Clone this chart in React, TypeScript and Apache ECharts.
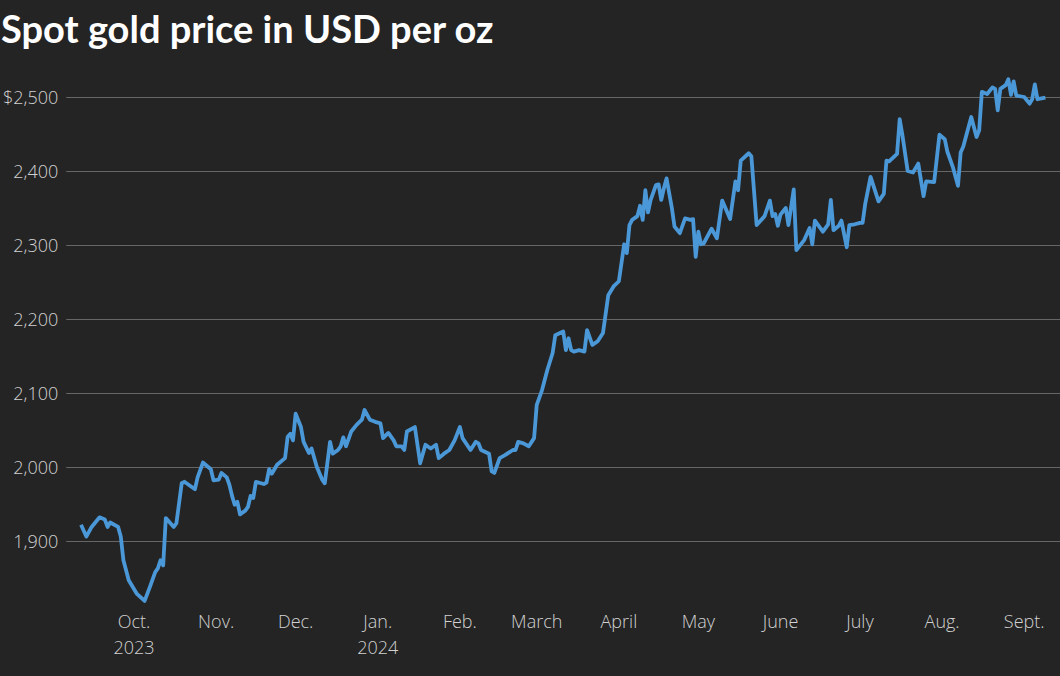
import React, { useEffect, useRef } from "react";
import * as echarts from "echarts";

const dates: string[] = [
  "2023-09-11","2023-09-13","2023-09-15","2023-09-18","2023-09-20","2023-09-21","2023-09-22","2023-09-25","2023-09-26","2023-09-27","2023-09-29",
  "2023-10-02","2023-10-05","2023-10-07","2023-10-09","2023-10-10","2023-10-11","2023-10-12","2023-10-13","2023-10-16","2023-10-17","2023-10-19","2023-10-20","2023-10-24","2023-10-25","2023-10-27","2023-10-30","2023-10-31",
  "2023-11-02","2023-11-03","2023-11-05","2023-11-06","2023-11-07","2023-11-08","2023-11-09","2023-11-10","2023-11-12","2023-11-13","2023-11-14","2023-11-15","2023-11-16","2023-11-19","2023-11-20","2023-11-21","2023-11-22","2023-11-24","2023-11-27","2023-11-28","2023-11-29","2023-11-30",
  "2023-12-01","2023-12-03","2023-12-04","2023-12-06","2023-12-07","2023-12-09","2023-12-11","2023-12-12","2023-12-14","2023-12-15","2023-12-17","2023-12-18","2023-12-19","2023-12-20","2023-12-22","2023-12-24","2023-12-26","2023-12-27","2023-12-29","2023-12-31",
  "2024-01-02","2024-01-03","2024-01-05","2024-01-07","2024-01-08","2024-01-10","2024-01-11","2024-01-12","2024-01-15","2024-01-17","2024-01-19","2024-01-21","2024-01-23","2024-01-24","2024-01-26","2024-01-28","2024-01-30",
  "2024-02-01","2024-02-02","2024-02-05","2024-02-07","2024-02-08","2024-02-09","2024-02-12","2024-02-13","2024-02-14","2024-02-16","2024-02-18","2024-02-21","2024-02-22","2024-02-23","2024-02-25","2024-02-27","2024-02-29",
  "2024-03-01","2024-03-03","2024-03-05","2024-03-07","2024-03-08","2024-03-11","2024-03-12","2024-03-13","2024-03-14","2024-03-15","2024-03-17","2024-03-19","2024-03-20","2024-03-22","2024-03-24","2024-03-26","2024-03-28","2024-03-30",
  "2024-04-01","2024-04-03","2024-04-04","2024-04-05","2024-04-06","2024-04-08","2024-04-09","2024-04-10","2024-04-11","2024-04-12","2024-04-13","2024-04-15","2024-04-16","2024-04-17","2024-04-18","2024-04-19","2024-04-21","2024-04-22","2024-04-24","2024-04-26","2024-04-28","2024-04-29","2024-04-30",
  "2024-05-01","2024-05-02","2024-05-03","2024-05-06","2024-05-08","2024-05-10","2024-05-13","2024-05-15","2024-05-16","2024-05-17","2024-05-20","2024-05-21","2024-05-23","2024-05-26","2024-05-28","2024-05-29","2024-05-30","2024-05-31",
  "2024-06-01","2024-06-03","2024-06-04","2024-06-06","2024-06-07","2024-06-10","2024-06-12","2024-06-13","2024-06-14","2024-06-17","2024-06-19","2024-06-20","2024-06-21","2024-06-23","2024-06-24","2024-06-26","2024-06-27","2024-06-29",
  "2024-07-01","2024-07-02","2024-07-03","2024-07-05","2024-07-08","2024-07-10","2024-07-11","2024-07-12","2024-07-15","2024-07-16","2024-07-17","2024-07-19","2024-07-21","2024-07-23","2024-07-25","2024-07-26","2024-07-29","2024-07-31",
  "2024-08-02","2024-08-03","2024-08-05","2024-08-07","2024-08-08","2024-08-09","2024-08-12","2024-08-14","2024-08-15","2024-08-16","2024-08-18","2024-08-20","2024-08-21","2024-08-22","2024-08-23","2024-08-25","2024-08-26","2024-08-27","2024-08-28","2024-08-29",
  "2024-09-01","2024-09-03","2024-09-04","2024-09-05","2024-09-06","2024-09-09"
];

const prices: number[] = [
  1922,1906,1919,1932,1929,1919,1925,1919,1906,1874,1847,
  1829,1819,1838,1858,1863,1874,1867,1931,1919,1924,1978,1980,1970,1986,2006,1997,1982,
  1983,1992,1986,1976,1961,1949,1953,1936,1941,1946,1961,1958,1980,1977,1979,1997,1991,2003,2012,2041,2045,2036,
  2072,2054,2034,2019,2025,2000,1983,1978,2034,2018,2023,2028,2040,2028,2048,2057,2064,2077,2064,2061,
  2059,2039,2046,2036,2028,2028,2023,2048,2054,2005,2030,2025,2030,2012,2018,2023,2036,
  2054,2039,2023,2034,2032,2023,2018,1994,1992,2012,2016,2023,2023,2034,2032,2028,2039,
  2084,2104,2131,2154,2178,2183,2158,2174,2158,2156,2158,2156,2185,2165,2170,2181,2232,2244,
  2251,2301,2289,2327,2334,2339,2353,2334,2374,2344,2361,2381,2382,2361,2377,2390,2350,2325,2316,2336,2334,2335,2284,
  2318,2301,2302,2322,2309,2360,2335,2386,2374,2414,2424,2420,2327,2339,2360,2339,2342,2326,
  2341,2350,2327,2375,2293,2307,2323,2301,2333,2318,2328,2361,2320,2326,2333,2297,2327,2328,
  2330,2330,2356,2392,2359,2369,2414,2413,2423,2470,2449,2400,2398,2410,2366,2386,2385,2449,
  2443,2426,2406,2380,2425,2433,2473,2446,2455,2507,2504,2513,2511,2482,2511,2516,2524,2503,2521,2502,
  2500,2491,2497,2517,2497,2499
];

const monthNames: string[] = ["Jan.", "Feb.", "March", "April", "May", "June", "July", "Aug.", "Sept.", "Oct.", "Nov.", "Dec."];
const yearLabelMonths: { year: number; month: number; label: string }[] = [
  { year: 2023, month: 9, label: "2023" },
  { year: 2024, month: 0, label: "2024" },
];
const yTickFirstLabel = "$2,500";
const titleText = "Spot gold price in USD per oz";

export default function App() {
  const ref = useRef<HTMLDivElement>(null);
  useEffect(() => {
    if (!ref.current) return;
    const chart = echarts.init(ref.current, null, { renderer: "svg" });
    const data = dates.map((d, i) => [d, prices[i]]);
    const labelFont = "'Open Sans', 'Noto Sans', sans-serif";
    chart.setOption({
      animation: false,
      backgroundColor: "#242424",
      title: {
        text: titleText,
        left: 1,
        top: 9,
        padding: 0,
        textStyle: {
          color: "#ffffff",
          fontFamily: "'Lato', sans-serif",
          fontWeight: "bold",
          fontSize: 38,
        },
      },
      grid: { left: 63, right: 0, top: 60, bottom: 61, containLabel: false },
      xAxis: {
        type: "time",
        min: new Date(2023, 8, 5, 10).getTime(),
        max: new Date(2024, 8, 14, 12).getTime(),
        minInterval: 28 * 86400000,
        maxInterval: 31 * 86400000,
        axisLine: { show: false },
        axisTick: { show: false },
        splitLine: { show: false },
        axisLabel: {
          color: "#d2d2d2",
          fontFamily: labelFont,
          fontWeight: 300,
          fontSize: 18,
          lineHeight: 26,
          margin: -7,
          showMinLabel: false,
          showMaxLabel: false,
          hideOverlap: false,
          formatter: (value: number) => {
            const d = new Date(value);
            if (d.getDate() !== 1 || d.getHours() !== 0) return "";
            const m = d.getMonth();
            const y = d.getFullYear();
            const extra = yearLabelMonths.find((e) => e.year === y && e.month === m);
            return extra ? monthNames[m] + "\n" + extra.label : monthNames[m];
          },
        },
      },
      yAxis: {
        type: "value",
        min: 1800,
        max: 2550,
        interval: 100,
        axisLine: { show: false },
        axisTick: { show: false },
        splitLine: { show: true, showMinLine: false, showMaxLine: false, lineStyle: { color: "#666666", width: 1 } },
        axisLabel: {
          color: "#d2d2d2",
          fontFamily: labelFont,
          fontWeight: 300,
          fontSize: 18,
          margin: 8,
          showMinLabel: false,
          showMaxLabel: false,
          formatter: (v: number) => (v === 2500 ? yTickFirstLabel : v.toLocaleString("en-US")),
        },
      },
      series: [
        {
          type: "line",
          data,
          showSymbol: false,
          symbol: "none",
          lineStyle: { color: "#4b98d8", width: 3.8, join: "round" },
          itemStyle: { color: "#4b98d8" },
        },
      ],
    });
    return () => chart.dispose();
  }, []);
  return <div ref={ref} style={{ position: "fixed", left: 0, top: 0, width: 1060, height: 676 }} />;
}
